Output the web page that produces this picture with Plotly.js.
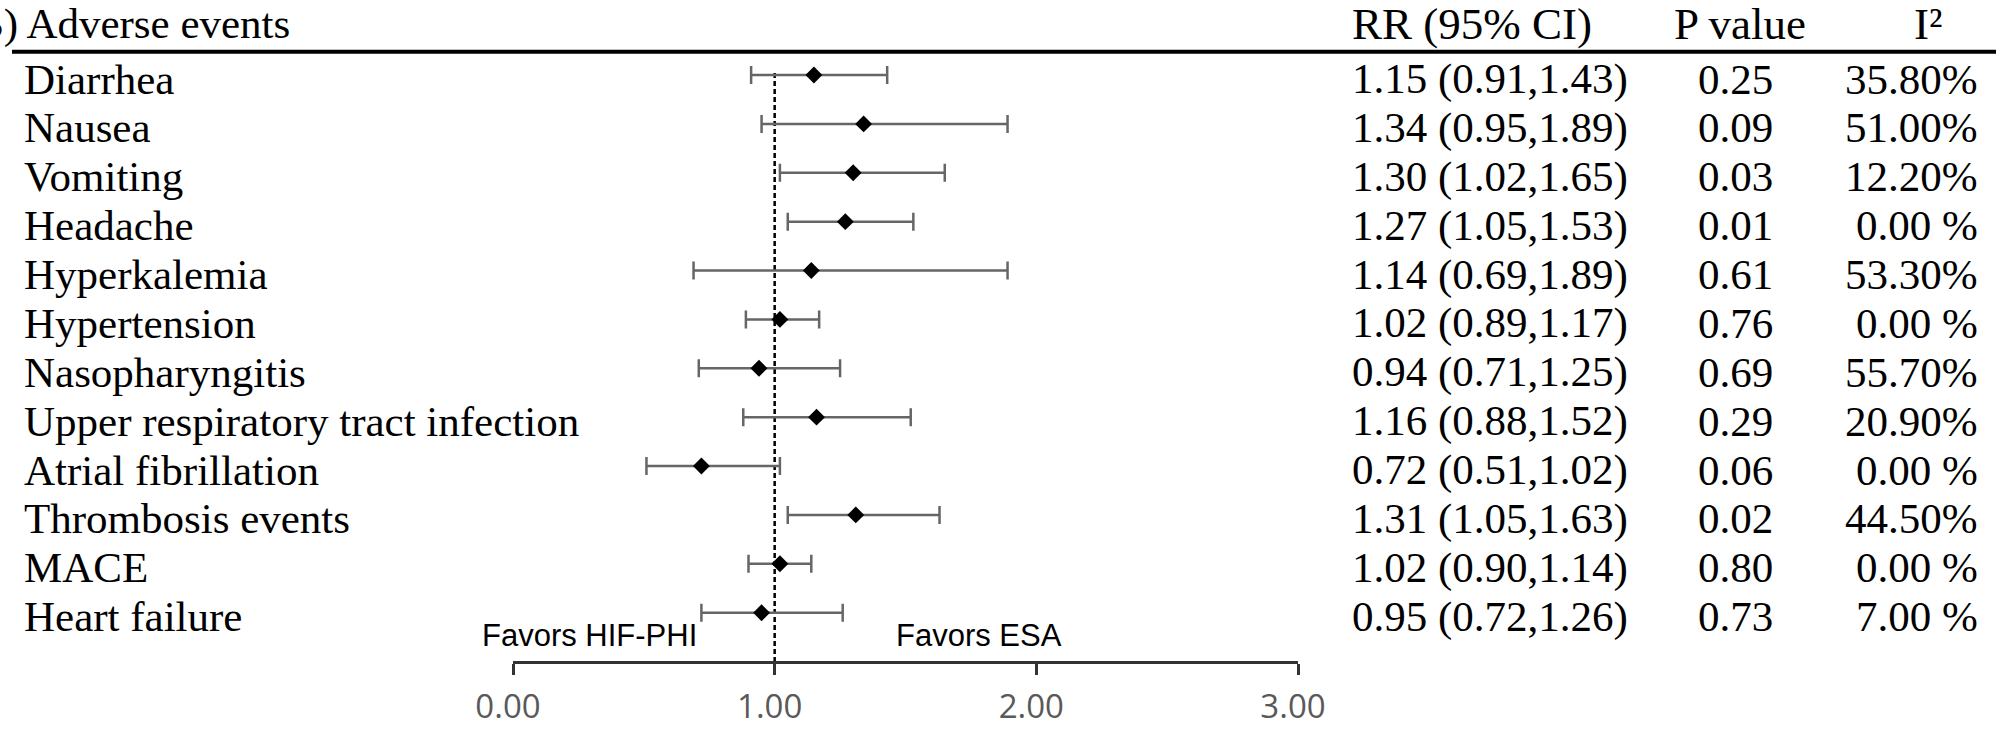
<!DOCTYPE html>
<html>
<head>
<meta charset="utf-8">
<script src="https://cdn.plot.ly/plotly-3.0.1.min.js"></script>
<style>html,body{margin:0;padding:0;background:#fff;}#chart{width:1999px;height:729px;}</style>
</head>
<body>
<div id="chart"></div>
<script>
// ---- data ----
const categories = ['Diarrhea','Nausea','Vomiting','Headache','Hyperkalemia','Hypertension',
  'Nasopharyngitis','Upper respiratory tract infection','Atrial fibrillation','Thrombosis events','MACE','Heart failure'];
const rr    = [1.15,1.34,1.30,1.27,1.14,1.02,0.94,1.16,0.72,1.31,1.02,0.95];
const lower = [0.91,0.95,1.02,1.05,0.69,0.89,0.71,0.88,0.51,1.05,0.90,0.72];
const upper = [1.43,1.89,1.65,1.53,1.89,1.17,1.25,1.52,1.02,1.63,1.14,1.26];
const pValues = ['0.25','0.09','0.03','0.01','0.61','0.76','0.69','0.29','0.06','0.02','0.80','0.73'];
const i2Values = ['35.80%','51.00%','12.20%','0.00 %','53.30%','0.00 %','55.70%','20.90%','0.00 %','44.50%','0.00 %','7.00 %'];
const tickValues = [0,1,2,3];
const tickLabels = ['0.00','1.00','2.00','3.00'];
const headers = {label:'B) Adverse events', rr:'RR (95% CI)', p:'P value', i2:'I²'};
const favorLeft = 'Favors HIF-PHI', favorRight = 'Favors ESA';

// ---- layout helpers ----
const W = 1999, H = 729;
const px = v => v / W;
const py = v => 1 - v / H;
const rowTop = 75, rowStep = 48.88, axisY = 661;
const yTop = -rowTop / rowStep;
const yBottom = (axisY - rowTop) / rowStep;
const idx = categories.map((_, i) => i);

const serif = 'Liberation Serif, Times New Roman, serif';
const sans = 'Liberation Sans, Arial, sans-serif';
const rowFont = {family: serif, size: 43, color: '#000'};

const trace = {
  type: 'scatter', mode: 'markers',
  x: rr, y: idx,
  marker: {symbol: 'diamond', size: 13, color: '#000'},
  error_x: {type: 'data', symmetric: false,
    array: upper.map((u, i) => +(u - rr[i]).toFixed(4)),
    arrayminus: lower.map((l, i) => +(rr[i] - l).toFixed(4)),
    color: '#666', thickness: 2.5, width: 9},
  cliponaxis: false, hoverinfo: 'skip'
};

const annotations = [];
const rowShift = -4;
categories.forEach((c, i) => {
  annotations.push({xref:'paper', yref:'y', x: px(22), y: i, xanchor:'left', yanchor:'middle', yshift: rowShift, text: c, showarrow:false, font: rowFont});
  annotations.push({xref:'paper', yref:'y', x: px(1350), y: i, xanchor:'left', yanchor:'middle', yshift: rowShift,
    text: rr[i].toFixed(2) + ' (' + lower[i].toFixed(2) + ',' + upper[i].toFixed(2) + ')', showarrow:false, font: rowFont});
  annotations.push({xref:'paper', yref:'y', x: px(1735), y: i, xanchor:'center', yanchor:'middle', yshift: rowShift, text: pValues[i], showarrow:false, font: rowFont});
  annotations.push({xref:'paper', yref:'y', x: px(1980), y: i, xanchor:'right', yanchor:'middle', yshift: rowShift, text: i2Values[i], showarrow:false, font: rowFont});
});
const headY = py(24);
const headFont = {family: serif, size: 43, color: '#000'};
const headFontR = {family: serif, size: 45, color: '#000'};
annotations.push({xref:'paper', yref:'paper', x: px(-27), y: headY, xanchor:'left', yanchor:'middle', text: headers.label, showarrow:false, font: headFont});
annotations.push({xref:'paper', yref:'paper', x: px(1350), y: headY, xanchor:'left', yanchor:'middle', text: headers.rr, showarrow:false, font: headFontR});
annotations.push({xref:'paper', yref:'paper', x: px(1740), y: headY, xanchor:'center', yanchor:'middle', text: headers.p, showarrow:false, font: headFontR});
annotations.push({xref:'paper', yref:'paper', x: px(1928), y: headY, xanchor:'center', yanchor:'middle', text: headers.i2, showarrow:false, font: headFontR});
const favFont = {family: sans, size: 31, color: '#000'};
annotations.push({xref:'paper', yref:'paper', x: px(480), y: py(635), xanchor:'left', yanchor:'middle', text: favorLeft, showarrow:false, font: favFont});
annotations.push({xref:'paper', yref:'paper', x: px(894), y: py(635), xanchor:'left', yanchor:'middle', text: favorRight, showarrow:false, font: favFont});

const layout = {
  width: W, height: H,
  margin: {l:0, r:0, t:0, b:0},
  paper_bgcolor: '#fff', plot_bgcolor: 'rgba(0,0,0,0)',
  showlegend: false,
  xaxis: {
    domain: [px(513), px(1298)], range: [0, 3],
    tickvals: tickValues, ticktext: tickLabels,
    ticks: 'outside', ticklen: 11, tickwidth: 3, tickcolor: '#333',
    showline: true, linecolor: '#333', linewidth: 3,
    showgrid: false, zeroline: false,
    tickfont: {family: 'Open Sans, sans-serif', size: 33, color: '#595959'},
    ticklabelshift: -5, ticklabelstandoff: 3, fixedrange: true
  },
  yaxis: {
    domain: [(H - axisY) / H, 1], range: [yBottom, yTop],
    showticklabels: false, showgrid: false, zeroline: false, showline: false, ticks: '', fixedrange: true
  },
  shapes: [
    {type:'line', xref:'x', yref:'y', x0:1, x1:1, y0:-0.04, y1:yBottom, layer:'below',
      line:{color:'#000', width:2.5, dash:'5px,3px'}},
    {type:'line', xref:'paper', yref:'paper', x0:px(12), x1:px(1996), y0:py(51.7), y1:py(51.7),
      line:{color:'#000', width:4}}
  ],
  annotations: annotations
};

Plotly.newPlot('chart', [trace], layout, {displayModeBar: false, staticPlot: true});
</script>
</body>
</html>
